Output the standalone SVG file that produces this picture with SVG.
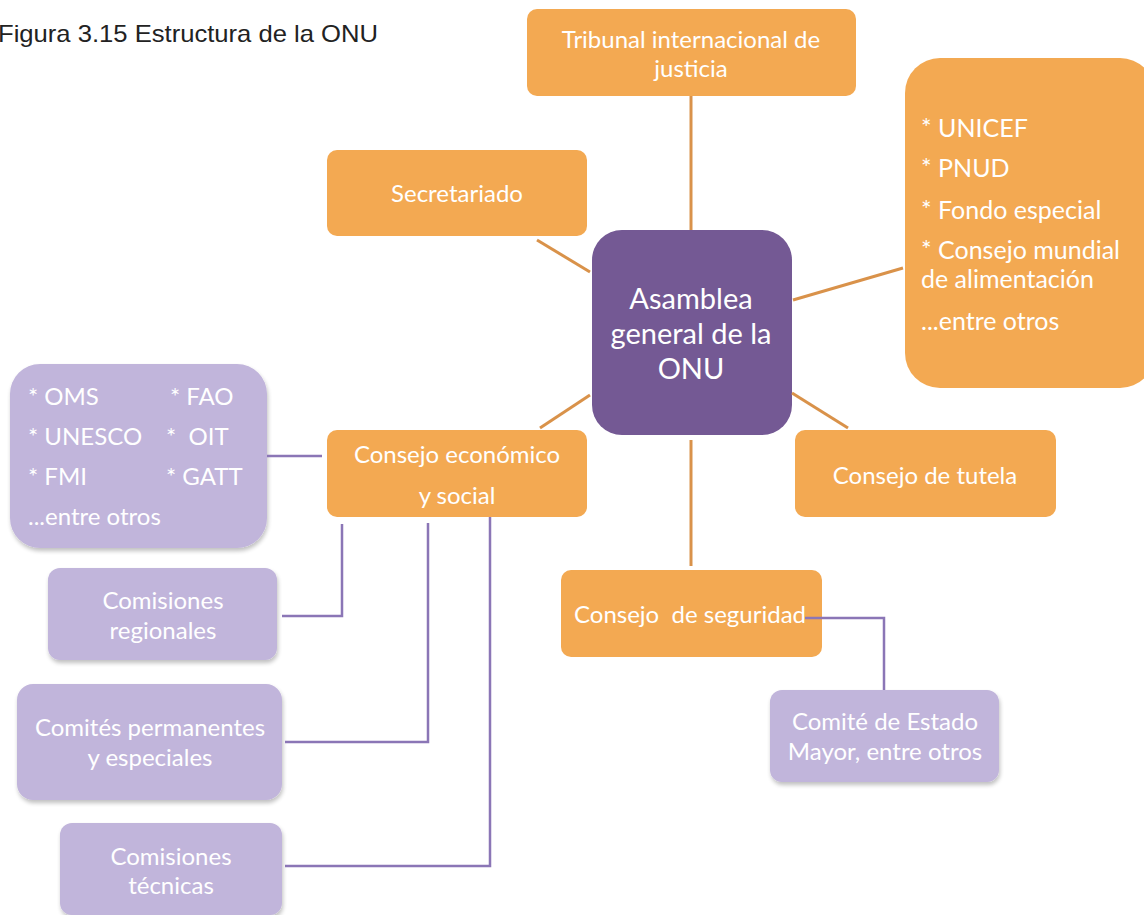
<svg xmlns="http://www.w3.org/2000/svg" width="1144" height="915" viewBox="0 0 1144 915">
<defs>
<filter id="sh" x="-10%" y="-10%" width="120%" height="130%">
<feGaussianBlur in="SourceAlpha" stdDeviation="2"/>
<feOffset dx="1" dy="3" result="b"/>
<feComponentTransfer><feFuncA type="linear" slope="0.25"/></feComponentTransfer>
<feMerge><feMergeNode/><feMergeNode in="SourceGraphic"/></feMerge>
</filter>
</defs>
<style>
.o{fill:#f3a952;}
.p{fill:#c1b5db;filter:url(#sh);}
.d{fill:#745994;}
.t{font-family:Lato,"Open Sans",sans-serif;fill:#ffffff;font-size:24px;}
.big{font-size:29px;}
.lst{font-size:25px;}
.c{text-anchor:middle;}
.lo{stroke:#d9924a;stroke-width:3;fill:none;}
.lp{stroke:#8b76b6;stroke-width:2.5;fill:none;}
.title{font-family:"Liberation Sans",Arial,sans-serif;font-size:24px;fill:#222222;}
</style>
<rect width="1144" height="915" fill="#ffffff"/>
<text class="title" x="-2" y="42" textLength="380" lengthAdjust="spacingAndGlyphs">Figura 3.15 Estructura de la ONU</text>
<g id="tribunal">
<rect class="o" x="527" y="9" width="329" height="87" rx="10"/>
<text class="t c" x="691" y="48">Tribunal internacional de</text>
<text class="t c" x="691" y="77">justicia</text>
</g>
<g id="secretariado">
<rect class="o" x="327" y="150" width="260" height="86" rx="10"/>
<text class="t c" x="457" y="202">Secretariado</text>
</g>
<g id="asamblea">
<rect class="d" x="592" y="230" width="200" height="205" rx="30"/>
<text class="t c big" x="691" y="309">Asamblea</text>
<text class="t c big" x="691" y="344">general de la</text>
<text class="t c big" x="691" y="379">ONU</text>
</g>
<g id="agencias">
<rect class="o" x="905" y="58" width="250" height="330" rx="35"/>
<text class="t lst" x="921" y="137">* UNICEF</text>
<text class="t lst" x="921" y="177">* PNUD</text>
<text class="t lst" x="921" y="219">* Fondo especial</text>
<text class="t lst" x="921" y="259">* Consejo mundial</text>
<text class="t lst" x="921" y="288">de alimentación</text>
<text class="t lst" x="921" y="330">...entre otros</text>
</g>
<g id="tutela">
<rect class="o" x="795" y="430" width="261" height="87" rx="10"/>
<text class="t c" x="925" y="484">Consejo de tutela</text>
</g>
<g id="economico">
<rect class="o" x="327" y="430" width="260" height="87" rx="10"/>
<text class="t c" x="457" y="463">Consejo económico</text>
<text class="t c" x="457" y="504">y social</text>
</g>
<g id="seguridad">
<rect class="o" x="561" y="570" width="261" height="87" rx="10"/>
<text class="t c" x="690" y="623" xml:space="preserve">Consejo  de seguridad</text>
</g>
<g id="estado-mayor">
<rect class="p" x="770" y="690" width="229" height="92" rx="12"/>
<text class="t c" x="885" y="730">Comité de Estado</text>
<text class="t c" x="885" y="760">Mayor, entre otros</text>
</g>
<g id="organismos">
<rect class="p" x="10" y="364" width="257" height="184" rx="30"/>
<text class="t" x="28" y="405">* OMS</text>
<text class="t" x="170" y="405">* FAO</text>
<text class="t" x="28" y="445">* UNESCO</text>
<text class="t" x="166" y="445" xml:space="preserve">*  OIT</text>
<text class="t" x="166" y="485">* GATT</text>
<text class="t" x="28" y="485">* FMI</text>
<text class="t" x="28" y="525">...entre otros</text>
</g>
<g id="regionales">
<rect class="p" x="48" y="568" width="229" height="92" rx="12"/>
<text class="t c" x="163" y="609">Comisiones</text>
<text class="t c" x="163" y="639">regionales</text>
</g>
<g id="comites">
<rect class="p" x="17" y="684" width="265" height="116" rx="16"/>
<text class="t c" x="150" y="736">Comités permanentes</text>
<text class="t c" x="150" y="766">y especiales</text>
</g>
<g id="tecnicas">
<rect class="p" x="60" y="823" width="222" height="92" rx="12"/>
<text class="t c" x="171" y="865">Comisiones</text>
<text class="t c" x="171" y="894">técnicas</text>
</g>
<g id="connectors">
<line class="lo" x1="691" y1="96" x2="691" y2="230"/>
<line class="lo" x1="537" y1="240" x2="590" y2="272"/>
<line class="lo" x1="793" y1="300" x2="903" y2="268"/>
<line class="lo" x1="792" y1="393" x2="848" y2="428"/>
<line class="lo" x1="540" y1="428" x2="590" y2="395"/>
<line class="lo" x1="691" y1="440" x2="691" y2="566"/>
<polyline class="lp" points="805,618 884,618 884,690"/>
<line class="lp" x1="267" y1="456" x2="322" y2="456"/>
<polyline class="lp" points="342,524 342,616 282,616"/>
<polyline class="lp" points="428,523 428,742 285,742"/>
<polyline class="lp" points="490,517 490,866 285,866"/>
</g>
</svg>
